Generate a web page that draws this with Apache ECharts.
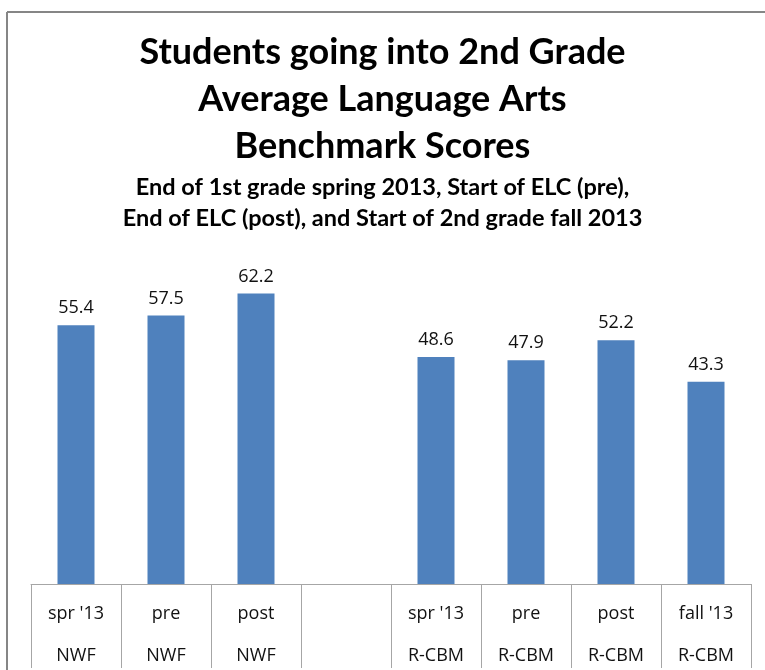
<!DOCTYPE html>
<html>
<head>
<meta charset="utf-8">
<script src="https://cdn.jsdelivr.net/npm/echarts@6/dist/echarts.min.js"></script>
<style>
  html, body { margin: 0; padding: 0; background: #fff; }
  #chart { width: 765px; height: 670px; }
</style>
</head>
<body>
<div id="chart"></div>
<script>
let periods = ["spr '13", 'pre', 'post', '', "spr '13", 'pre', 'post', "fall '13"];
let measures = ['NWF', 'NWF', 'NWF', '', 'R-CBM', 'R-CBM', 'R-CBM', 'R-CBM'];
let scores = [55.4, 57.5, 62.2, null, 48.6, 47.9, 52.2, 43.3];

let categories = periods.map((p, i) => p + '\n' + measures[i]);

let chart = echarts.init(document.getElementById('chart'));

let option = {
    title: [
        {
            text: 'Students going into 2nd Grade\nAverage Language Arts\nBenchmark Scores',
            left: 'center',
            top: 24,
            textStyle: {
                fontFamily: 'Lato',
                fontWeight: 'bold',
                fontSize: 36,
                lineHeight: 47,
                color: '#000'
            }
        },
        {
            text: 'End of 1st grade spring 2013, Start of ELC (pre),\nEnd of ELC (post), and Start of 2nd grade fall 2013',
            left: 'center',
            top: 167,
            textStyle: {
                fontFamily: 'Lato',
                fontWeight: 'bold',
                fontSize: 23.5,
                lineHeight: 31,
                color: '#000'
            }
        }
    ],
    graphic: [
        { type: 'line', shape: { x1: 7, y1: 12, x2: 765, y2: 12 }, style: { stroke: '#868686', lineWidth: 2 } },
        { type: 'line', shape: { x1: 7, y1: 12, x2: 7, y2: 670 }, style: { stroke: '#868686', lineWidth: 2 } }
    ],
    grid: {
        left: 31,
        right: 14,
        top: 257,
        bottom: 86,
        outerBoundsMode: 'none'
    },
    xAxis: {
        type: 'category',
        data: categories,
        axisLine: { lineStyle: { color: '#a6a6a6', width: 1 } },
        axisTick: { show: true, interval: 0, length: 84, lineStyle: { color: '#a6a6a6', width: 1 } },
        axisLabel: {
            interval: 0,
            margin: 9,
            fontFamily: 'Open Sans',
            fontSize: 18,
            lineHeight: 42,
            color: '#111'
        }
    },
    yAxis: {
        type: 'value',
        min: 0,
        max: 70,
        show: false
    },
    series: [
        {
            type: 'bar',
            data: scores,
            barWidth: 37,
            itemStyle: { color: '#4F81BD' },
            label: {
                show: true,
                position: 'top',
                distance: 8,
                fontFamily: 'Open Sans',
                fontSize: 18,
                color: '#111',
                formatter: p => p.value.toFixed(1)
            }
        }
    ]
};

chart.setOption(option);
</script>
</body>
</html>
